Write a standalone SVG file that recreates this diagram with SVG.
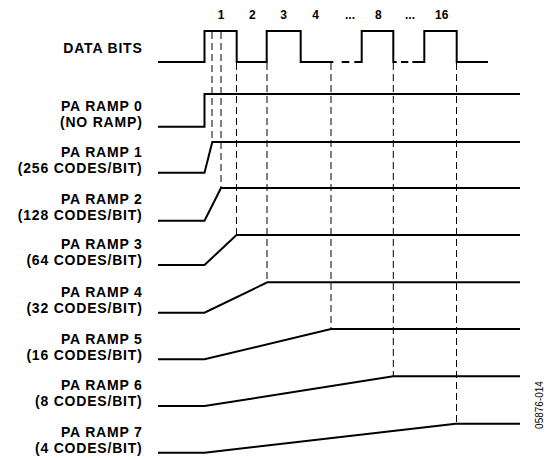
<svg xmlns="http://www.w3.org/2000/svg" width="547" height="460" viewBox="0 0 547 460">
<style>
.lbl{font-family:"Liberation Sans",Arial,sans-serif;font-weight:bold;font-size:14px;letter-spacing:0.8px;fill:#000;text-anchor:end}
.num{font-family:"Liberation Sans",Arial,sans-serif;font-weight:bold;font-size:12px;fill:#000;text-anchor:middle}
.code{font-family:"Liberation Sans",Arial,sans-serif;font-size:10px;fill:#000;text-anchor:middle}
.sig{fill:none;stroke:#000;stroke-width:2;stroke-linejoin:miter}
.dash{fill:none;stroke:#000;stroke-width:1;stroke-dasharray:7,4}
</style>
<rect width="547" height="460" fill="#fff"/>
<g id="connectors">
<path class="dash" d="M212,32V142"/>
<path class="dash" d="M221,32V188"/>
<path class="dash" d="M236.5,63V235"/>
<path class="dash" d="M267,63V282"/>
<path class="dash" d="M331,63V329"/>
<path class="dash" d="M393.3,63V376"/>
<path class="dash" d="M456.5,63V424"/>
</g>
<g id="bit-numbers">
<text class="num" x="221" y="19">1</text>
<text class="num" x="252.3" y="19">2</text>
<text class="num" x="283.5" y="19">3</text>
<text class="num" x="315.7" y="19">4</text>
<text class="num" x="350" y="19">...</text>
<text class="num" x="378.3" y="19">8</text>
<text class="num" x="410" y="19">...</text>
<text class="num" x="441.7" y="19">16</text>
</g>
<g id="data-bits">
<text class="lbl" x="142.6" y="53.3">DATA BITS</text>
<path class="sig" d="M158,62H204.5V31H236.7V62H266.7V31H300.7V62H333.3"/>
<path class="sig" d="M341.7,62H349.3M354.3,62H361.7V31H393.3V62H396.7"/>
<path class="sig" d="M401,62H408.3M412.3,62H424.3V31H456.7V62H488"/>
</g>
<g id="ramp0">
<text class="lbl" x="142.6" y="110.5">PA RAMP 0</text>
<text class="lbl" x="142.6" y="126.7">(NO RAMP)</text>
<path class="sig" d="M158,126.7H204.5V94H520"/>
</g>
<g id="ramp1">
<text class="lbl" x="142.6" y="156.7">PA RAMP 1</text>
<text class="lbl" x="142.6" y="172.9">(256 CODES/BIT)</text>
<path class="sig" d="M158,172.7H204.5L212.3,142H520"/>
</g>
<g id="ramp2">
<text class="lbl" x="142.6" y="203.5">PA RAMP 2</text>
<text class="lbl" x="142.6" y="219.7">(128 CODES/BIT)</text>
<path class="sig" d="M158,220.7H204.5L221,188H520"/>
</g>
<g id="ramp3">
<text class="lbl" x="142.6" y="249">PA RAMP 3</text>
<text class="lbl" x="142.6" y="265.2">(64 CODES/BIT)</text>
<path class="sig" d="M158,265H204.5L236.5,235H520"/>
</g>
<g id="ramp4">
<text class="lbl" x="142.6" y="297">PA RAMP 4</text>
<text class="lbl" x="142.6" y="313.2">(32 CODES/BIT)</text>
<path class="sig" d="M158,312.7H204.5L267.3,282.3H520"/>
</g>
<g id="ramp5">
<text class="lbl" x="142.6" y="343.5">PA RAMP 5</text>
<text class="lbl" x="142.6" y="359.7">(16 CODES/BIT)</text>
<path class="sig" d="M158,359.3H204.5L331,329H520"/>
</g>
<g id="ramp6">
<text class="lbl" x="142.6" y="390.2">PA RAMP 6</text>
<text class="lbl" x="142.6" y="406.4">(8 CODES/BIT)</text>
<path class="sig" d="M158,406H204.5L393.3,376.3H520"/>
</g>
<g id="ramp7">
<text class="lbl" x="142.6" y="437">PA RAMP 7</text>
<text class="lbl" x="142.6" y="453.2">(4 CODES/BIT)</text>
<path class="sig" d="M158,452.7H204.5L455.7,423.7H520"/>
</g>
<text class="code" transform="translate(543,405) rotate(-90)">05876-014</text>
</svg>
